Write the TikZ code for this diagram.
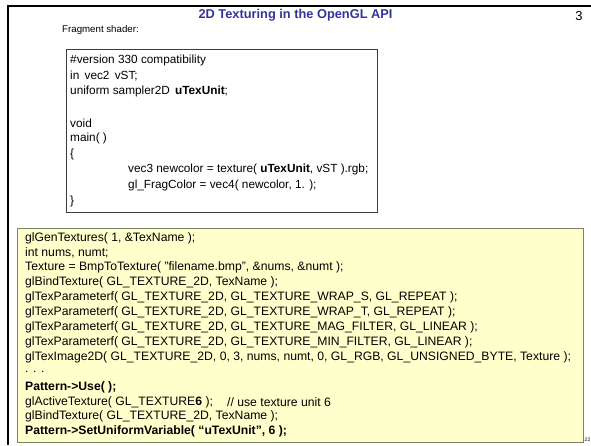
\documentclass[tikz,border=0pt]{standalone}
\usepackage{fontspec}
\setmainfont{Liberation Sans}
\definecolor{titleblue}{RGB}{51,51,153}
\definecolor{notefill}{RGB}{255,255,204}
\definecolor{noteedge}{RGB}{128,128,100}
\definecolor{codeedge}{RGB}{60,60,60}
\begin{document}
\begin{tikzpicture}[x=1pt,y=-1pt,
  slidetitle/.style={text=titleblue,font=\fontsize{12.8}{15}\selectfont\bfseries,inner sep=0pt},
  caption/.style={anchor=west,inner sep=0pt,font=\fontsize{9.7}{11}\selectfont},
  shaderline/.style={anchor=west,inner sep=0pt,font=\fontsize{11.8}{14}\selectfont},
  apiline/.style={anchor=west,inner sep=0pt,font=\fontsize{12.2}{14}\selectfont},
  codebox/.style={draw=codeedge,line width=0.9pt,fill=white,anchor=north west,inner sep=0pt},
  notebox/.style={draw=noteedge,line width=1.2pt,fill=notefill,anchor=north west,inner sep=0pt}]
\useasboundingbox (0,0) rectangle (591,445);

% slide frame
\draw[line width=2.5pt] (591,6) -- (8,6) -- (8,445);

% heading and slide number
\node[slidetitle] (title) at (295.5,15) {2D Texturing in the OpenGL API};
\node[inner sep=0pt,font=\fontsize{13}{15}\selectfont] (num) at (579,16) {3};

% fragment shader listing
\node[caption] (frag) at (62,30) {Fragment shader:};
\node[codebox,minimum width=311pt,minimum height=163pt] (shader) at (66,49) {};
\node[shaderline] (s1) at (70,60) {\#version 330 compatibility};
\node[shaderline] (s2) at (70,75.7) {in\, vec2\, vST;};
\node[shaderline] (s3) at (70,91.4) {uniform sampler2D\, \textbf{uTexUnit};};
\node[shaderline] (s5) at (70,122.8) {void};
\node[shaderline] (s6) at (70,138.5) {main( )};
\node[shaderline] (s7) at (70,154.2) {\{};
\node[shaderline] (s8) at (128,169.9) {vec3 newcolor = texture( \textbf{uTexUnit}, vST ).rgb;};
\node[shaderline] (s9) at (128,185.6) {gl\_FragColor = vec4( newcolor, 1. );};
\node[shaderline] (s10) at (70,201.3) {\}};

% application-side texture setup
\node[notebox,minimum width=566pt,minimum height=214pt] (api) at (17,228) {};
\node[apiline] (a1) at (25,238) {glGenTextures( 1, \&TexName );};
\node[apiline] (a2) at (25,252.9) {int nums, numt;};
\node[apiline] (a3) at (25,267.8) {Texture = BmpToTexture( "filename.bmp", \&nums, \&numt );};
\node[apiline] (a4) at (25,282.7) {glBindTexture( GL\_TEXTURE\_2D, TexName );};
\node[apiline] (a5) at (25,297.6) {glTexParameterf( GL\_TEXTURE\_2D, GL\_TEXTURE\_WRAP\_S, GL\_REPEAT );};
\node[apiline] (a6) at (25,312.5) {glTexParameterf( GL\_TEXTURE\_2D, GL\_TEXTURE\_WRAP\_T, GL\_REPEAT );};
\node[apiline] (a7) at (25,327.4) {glTexParameterf( GL\_TEXTURE\_2D, GL\_TEXTURE\_MAG\_FILTER, GL\_LINEAR );};
\node[apiline] (a8) at (25,342.3) {glTexParameterf( GL\_TEXTURE\_2D, GL\_TEXTURE\_MIN\_FILTER, GL\_LINEAR );};
\node[apiline] (a9) at (25,357.2) {glTexImage2D( GL\_TEXTURE\_2D, 0, 3, nums, numt, 0, GL\_RGB, GL\_UNSIGNED\_BYTE, Texture );};
\node[apiline] (a10) at (25,372.1) {. . .};
\node[apiline] (a11) at (25,387) {\textbf{Pattern->Use( );}};
\node[apiline] (a12) at (25,401.9) {glActiveTexture( GL\_TEXTURE\textbf{6} );};
\node[apiline] (a12c) at (227,401.9) {// use texture unit 6};
\node[apiline] (a13) at (25,416.8) {glBindTexture( GL\_TEXTURE\_2D, TexName );};
\node[apiline] (a14) at (25,431.7) {\textbf{Pattern->SetUniformVariable( “uTexUnit”, 6 );}};

% page number
\node[inner sep=0pt,font=\fontsize{5}{6}\selectfont] (page) at (587.5,440) {22};
\end{tikzpicture}
\end{document}
